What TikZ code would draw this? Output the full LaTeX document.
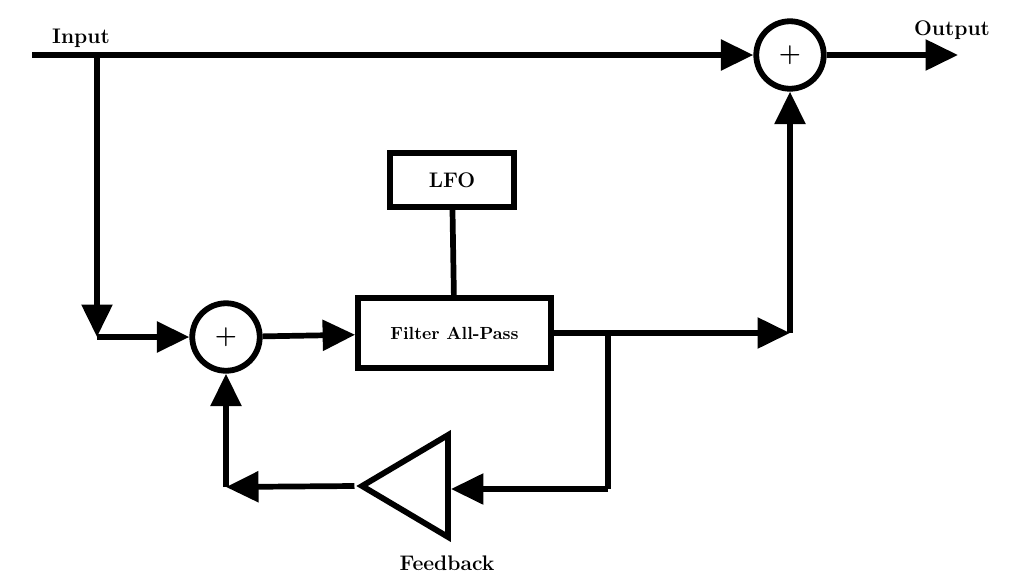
\documentclass[tikz,border=0pt]{standalone}
\usetikzlibrary{arrows.meta,shapes.geometric}
\begin{document}
\begin{tikzpicture}[x=0.02cm,y=-0.02cm,
  ln/.style={line width=6.5pt/2},
  ar/.style={ln,-{Triangle[length=0.65cm,width=0.6cm]}},
  sum/.style={circle,draw,line width=3.3pt,minimum size=1.35cm,inner sep=0pt,font=\bfseries\Large},
  box/.style={draw,line width=3.3pt,inner sep=0pt,font=\bfseries},
  lbl/.style={font=\bfseries\large}]
\useasboundingbox (0,0) rectangle (1024,582);
\node[sum] (s1) at (790,55) {+};
\node[sum] (s2) at (226,337) {+};
\node[box,minimum width=3.86cm,minimum height=1.4cm] (f) at (454.5,333) {Filter All-Pass};
\node[box,minimum width=2.48cm,minimum height=1.08cm,font=\bfseries\large] (lfo) at (452,180) {LFO};
\node[isosceles triangle,shape border rotate=180,draw,line width=3.3pt,minimum height=1.72cm,minimum width=2.04cm,inner sep=0pt,isosceles triangle stretches] (g) at (419,486) {};
\coordinate (in) at (32,55);
\coordinate (b1) at (97,55);
\coordinate (c1) at (97,337);
\coordinate (out) at (958,55);
\coordinate (c2) at (790,333);
\coordinate (b2) at (608,333);
\coordinate (c3) at (608,489);
\coordinate (c4) at (226,487);
\node[lbl] at (81,38) {Input};
\node[lbl] at (952,30) {Output};
\node[lbl] at (447,563) {Feedback};
\draw[ar] (in) -- (s1);
\draw[ar] (s1) -- (out);
\draw[ar] (b1) -- (c1);
\draw[ar] (c1) -- (s2);
\draw[ar] (s2) -- (f);
\draw[ln] (lfo) -- (f);
\draw[ar] (f.east) -- (c2);
\draw[ar] (c2) -- (s1);
\draw[ln] (b2) -- (c3);
\draw[ar] (c3) -- (g.east|-c3);
\draw[ar] (g.apex) -- (c4);
\draw[ar] (c4) -- (s2);
\end{tikzpicture}
\end{document}
